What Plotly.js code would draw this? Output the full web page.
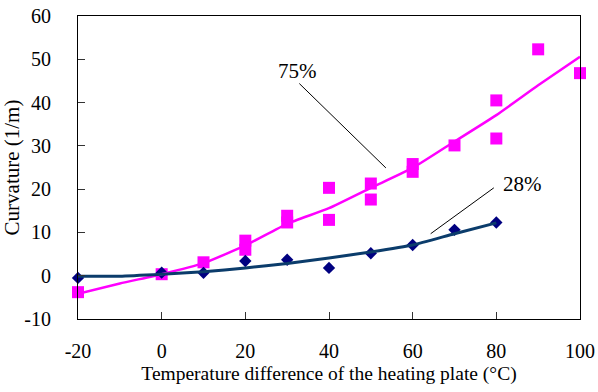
<!DOCTYPE html>
<html>
<head>
<meta charset="utf-8">
<script src="https://cdn.plot.ly/plotly-3.0.1.min.js"></script>
<style>html,body{margin:0;padding:0;background:#fff;}#chart{width:598px;height:392px;}</style>
</head>
<body>
<div id="chart"></div>
<script>
// 75% humidity measured points (pink squares)
const x75 = [-20, 0, 10, 20, 20, 30, 30, 40, 40, 50, 50, 60, 60, 70, 80, 80, 90, 100];
const y75 = [-3.8, 0.35, 3.1, 8.1, 6.0, 13.85, 12.3, 20.3, 12.9, 21.3, 17.6, 25.8, 24.0, 30.1, 40.5, 31.7, 52.3, 46.8];
// 75% fitted curve
const xFit75 = [-20, -10, 0, 10, 20, 30, 40, 50, 60, 70, 80, 90, 100];
const yFit75 = [-4.2, -1.8, 0.35, 2.9, 7.0, 12.0, 15.6, 20.3, 24.9, 31.0, 37.1, 44.0, 50.6];
// 28% humidity measured points (navy diamonds)
const x28 = [-20, 0, 10, 20, 30, 40, 50, 60, 70, 80];
const y28 = [-0.5, 0.7, 0.66, 3.4, 3.7, 1.8, 5.2, 7.1, 10.6, 12.3];
// 28% fitted curve
const xFit28 = [-20, -10, 0, 10, 20, 30, 40, 50, 60, 70, 80];
const yFit28 = [-0.1, -0.1, 0.35, 0.9, 1.8, 2.8, 4.1, 5.5, 7.1, 9.7, 12.2];
// Labels and leader lines
const labels = ["75%", "28%"];
const labelX = [32.4, 86.3];
const labelY = [47.4, 21.1];
const leaderX0 = [32.9, 79.4];
const leaderY0 = [44.4, 20.3];
const leaderX1 = [53.6, 64.3];
const leaderY1 = [24.9, 9.7];
const xTicks = [-20, 0, 20, 40, 60, 80, 100];
const yTicks = [-10, 0, 10, 20, 30, 40, 50, 60];

const serif = "Liberation Serif";

const traces = [
  {x: x75, y: y75, mode: "markers", type: "scatter", cliponaxis: false,
   marker: {symbol: "square", size: 12, color: "#FF00FF"}, hoverinfo: "skip"},
  {x: x28, y: y28, mode: "markers", type: "scatter", cliponaxis: false,
   marker: {symbol: "diamond", size: 9.5, color: "#000080"}, hoverinfo: "skip"},
  {x: xFit75, y: yFit75, mode: "lines", type: "scatter",
   line: {color: "#FF00FF", width: 2.5, shape: "spline", smoothing: 0.5}},
  {x: xFit28, y: yFit28, mode: "lines", type: "scatter",
   line: {color: "#0B3C6B", width: 3, shape: "spline", smoothing: 0.5}}
];

const annotations = labels.map((t, i) => ({
  x: labelX[i], y: labelY[i], xref: "x", yref: "y", text: t, showarrow: false,
  font: {family: serif, size: 21, color: "#000"}
}));
const shapes = labels.map((t, i) => ({
  type: "line", xref: "x", yref: "y",
  x0: leaderX0[i], y0: leaderY0[i], x1: leaderX1[i], y1: leaderY1[i],
  line: {color: "#000", width: 1}
}));

const layout = {
  width: 598, height: 392,
  margin: {l: 78, r: 18, t: 16, b: 73},
  paper_bgcolor: "#fff", plot_bgcolor: "#fff",
  showlegend: false,
  font: {family: serif, color: "#000", size: 20},
  xaxis: {
    range: [-20, 100], tickvals: xTicks, ticktext: xTicks.map(String),
    showgrid: false, zeroline: false, showline: true, linecolor: "#000", linewidth: 1,
    mirror: true, ticks: "inside", ticklen: 7, tickcolor: "#333",
    tickfont: {family: serif, size: 20}, ticklabelstandoff: 14,
    title: {text: "Temperature difference of the heating plate (°C)", font: {family: serif, size: 19.5}, standoff: 5}
  },
  yaxis: {
    range: [-10, 60], tickvals: yTicks, ticktext: yTicks.map(String),
    showgrid: false, zeroline: false, showline: true, linecolor: "#000", linewidth: 1,
    mirror: true, ticks: "inside", ticklen: 7, tickcolor: "#333",
    tickfont: {family: serif, size: 20}, ticklabelstandoff: 22,
    title: {text: "Curvature (1/m)", font: {family: serif, size: 21}, standoff: 3}
  },
  annotations: annotations,
  shapes: shapes
};

Plotly.newPlot("chart", traces, layout, {displayModeBar: false, staticPlot: true});
</script>
</body>
</html>
